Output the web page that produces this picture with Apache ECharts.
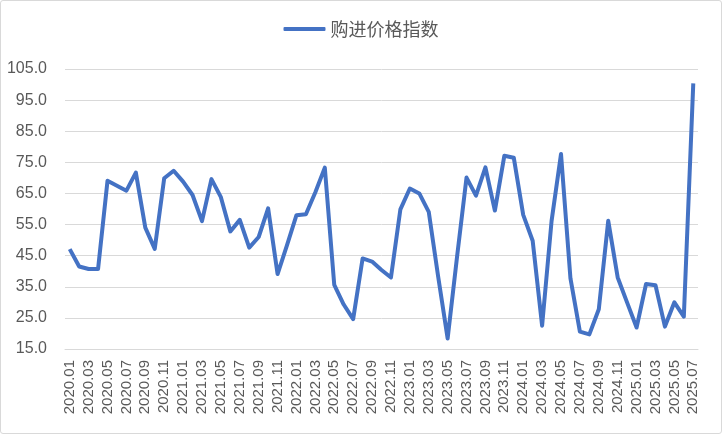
<!DOCTYPE html>
<html>
<head>
<meta charset="utf-8">
<script src="https://cdn.jsdelivr.net/npm/echarts@6/dist/echarts.min.js"></script>
<style>
html,body{margin:0;padding:0;background:#fff;}
#c{position:absolute;left:0;top:0;width:720px;height:432px;border:1px solid #d9d9d9;border-radius:3px;}
</style>
</head>
<body>
<div id="c"></div>
<script>
const seriesName = '购进价格指数';
const years = [2020, 2021, 2022, 2023, 2024, 2025];
const categories = [];
years.forEach(function (y) {
  for (let m = 1; m <= 12; m++) {
    if (y === 2025 && m > 7) break;
    categories.push(y + '.' + (m < 10 ? '0' + m : m));
  }
});
const values = [
  47.1, 41.5, 40.7, 40.7, 69.1, 67.5, 65.9, 71.7, 54.0, 47.2, 69.9, 72.3,
  68.8, 64.5, 56.1, 69.6, 63.8, 52.8, 56.5, 47.6, 51.0, 60.2, 39.1, 48.4,
  58.0, 58.3, 65.4, 73.3, 35.6, 29.3, 24.6, 44.1, 43.1, 40.4, 38.0, 59.9,
  66.6, 65.0, 59.1, 38.2, 18.4, 44.7, 70.1, 64.3, 73.4, 59.5, 77.1, 76.5,
  58.1, 49.8, 22.5, 56.1, 77.7, 37.7, 20.6, 19.7, 27.8, 56.2, 38.0, 29.9,
  21.9, 35.9, 35.5, 22.2, 30.0, 25.4, 100.4
];
const yMin = 15, yMax = 105, yStep = 10;

const chart = echarts.init(document.getElementById('c'));
chart.setOption({
  animation: false,
  legend: {
    top: 14,
    left: 'center',
    itemWidth: 42,
    itemHeight: 4,
    itemGap: 5,
    icon: 'roundRect',
    textStyle: { fontSize: 18, color: '#595959', fontFamily: 'Noto Sans CJK SC' },
    data: [seriesName]
  },
  grid: { left: 64, right: 23, top: 68, bottom: 84 },
  xAxis: {
    type: 'category',
    data: categories,
    boundaryGap: true,
    axisLine: { lineStyle: { color: '#d9d9d9', width: 1 } },
    axisTick: { show: false },
    axisLabel: {
      interval: 1,
      rotate: 90,
      fontSize: 15,
      color: '#595959',
      fontFamily: 'Liberation Sans',
      margin: 11
    }
  },
  yAxis: {
    type: 'value',
    min: yMin,
    max: yMax,
    interval: yStep,
    axisLine: { show: false },
    axisTick: { show: false },
    splitLine: { lineStyle: { color: '#d9d9d9', width: 1 } },
    axisLabel: {
      formatter: function (v) { return v.toFixed(1); },
      fontSize: 16,
      color: '#595959',
      fontFamily: 'Liberation Sans',
      margin: 18
    }
  },
  series: [{
    name: seriesName,
    type: 'line',
    data: values,
    showSymbol: false,
    symbol: 'none',
    lineStyle: { color: '#4472C4', width: 4, join: 'round' },
    itemStyle: { color: '#4472C4' }
  }]
});
</script>
</body>
</html>
